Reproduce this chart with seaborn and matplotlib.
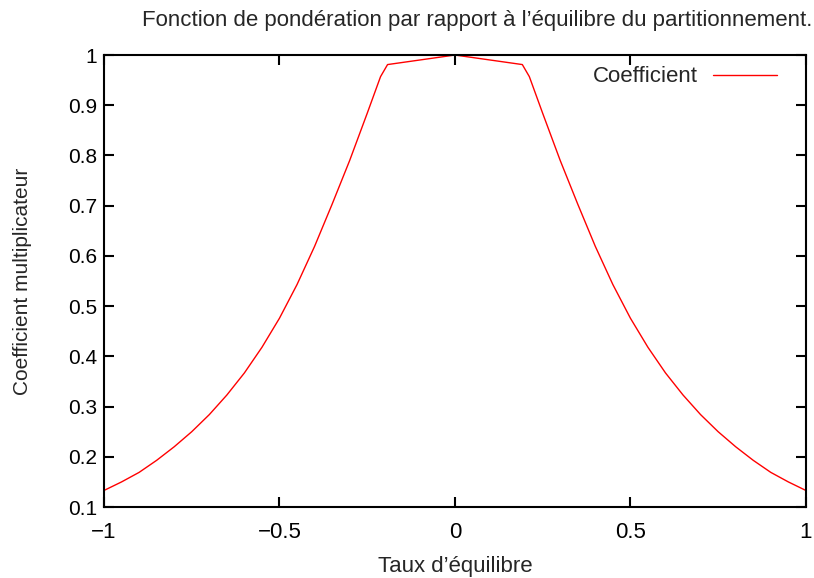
import numpy as np
import pandas as pd
import matplotlib
matplotlib.use("Agg")
import matplotlib.pyplot as plt
import seaborn as sns

# Valeurs
taux = [-1.0, -0.95, -0.9, -0.85, -0.8, -0.75, -0.7, -0.65, -0.6, -0.55,
        -0.5, -0.45, -0.4, -0.35, -0.3, -0.25, -0.212, -0.192, 0.0,
        0.192, 0.212, 0.25, 0.3, 0.35, 0.4, 0.45, 0.5, 0.55, 0.6,
        0.65, 0.7, 0.75, 0.8, 0.85, 0.9, 0.95, 1.0]
coef = [0.133, 0.150, 0.169, 0.193, 0.220, 0.250, 0.284, 0.323, 0.367, 0.418,
        0.476, 0.543, 0.619, 0.703, 0.790, 0.884, 0.957, 0.981, 1.0,
        0.981, 0.957, 0.884, 0.790, 0.703, 0.619, 0.543, 0.476, 0.418, 0.367,
        0.323, 0.284, 0.250, 0.220, 0.193, 0.169, 0.150, 0.133]
xticks = [-1, -0.5, 0, 0.5, 1]
xtick_labels = ["\u22121", "\u22120.5", "0", "0.5", "1"]
yticks = [0.1, 0.2, 0.3, 0.4, 0.5, 0.6, 0.7, 0.8, 0.9, 1.0]
ytick_labels = ["0.1", "0.2", "0.3", "0.4", "0.5", "0.6", "0.7", "0.8", "0.9", "1"]

df = pd.DataFrame({"Taux": taux, "Coefficient": coef})

sns.set_style("ticks")
plt.rcParams["font.family"] = ["Liberation Sans", "DejaVu Sans"]
plt.rcParams["font.size"] = 15

fig = plt.figure(figsize=(8.14, 5.78), dpi=100)
ax = fig.add_axes([0.1278, 0.1228, 0.8622, 0.782])

sns.lineplot(data=df, x="Taux", y="Coefficient", color="red", linewidth=1.0,
             label="Coefficient", sort=False, ax=ax)

ax.set_xlim(-1, 1)
ax.set_ylim(0.1, 1)
ax.set_xticks(xticks)
ax.set_xticklabels(xtick_labels)
ax.set_yticks(yticks)
ax.set_yticklabels(ytick_labels)
ax.tick_params(direction="in", length=7, width=1.5, top=True, right=True,
               colors="black")
ax.tick_params(axis="y", labelsize=15, pad=5)
ax.tick_params(axis="x", labelsize=16, pad=11)
for s in ax.spines.values():
    s.set_linewidth(1.5)
    s.set_color("black")

ax.set_xlabel("Taux d\u2019\u00e9quilibre", fontsize=16, labelpad=9)
ax.set_ylabel("Coefficient multiplicateur", fontsize=15, labelpad=26)

fig.text(0.998, 0.955, "Fonction de pond\u00e9ration par rapport \u00e0 l\u2019\u00e9quilibre du partitionnement.",
         ha="right", va="baseline", fontsize=16)

ax.legend(loc="upper right", frameon=False, markerfirst=False, fontsize=16,
          handlelength=2.9, handletextpad=0.68, borderpad=0, borderaxespad=0,
          bbox_to_anchor=(0.959, 0.975))

fig.savefig("out.png", dpi=100)
